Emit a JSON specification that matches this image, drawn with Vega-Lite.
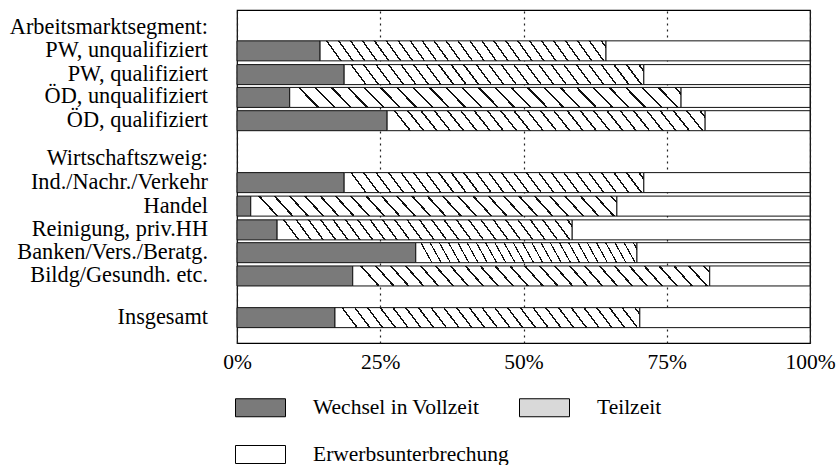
{
  "$schema": "https://vega.github.io/schema/vega-lite/v6.json",
  "width": 573,
  "height": 333,
  "autosize": {"type": "none"},
  "padding": {"left": 237, "top": 10, "right": 26, "bottom": 122},
  "background": "#ffffff",
  "config": {"font": "Liberation Serif, Times New Roman, serif", "view": {"stroke": "#000000", "strokeWidth": 1.2}},
  "datasets": {
    "bars": [
      {"row": "PW, unqualifiziert", "pos": 1.54, "cat": "Wechsel in Vollzeit", "value": 14.5},
      {"row": "PW, unqualifiziert", "pos": 1.54, "cat": "Teilzeit", "value": 49.9},
      {"row": "PW, unqualifiziert", "pos": 1.54, "cat": "Erwerbsunterbrechung", "value": 35.6},
      {"row": "PW, qualifiziert", "pos": 2.56, "cat": "Wechsel in Vollzeit", "value": 18.7},
      {"row": "PW, qualifiziert", "pos": 2.56, "cat": "Teilzeit", "value": 52.3},
      {"row": "PW, qualifiziert", "pos": 2.56, "cat": "Erwerbsunterbrechung", "value": 29.0},
      {"row": "ÖD, unqualifiziert", "pos": 3.54, "cat": "Wechsel in Vollzeit", "value": 9.2},
      {"row": "ÖD, unqualifiziert", "pos": 3.54, "cat": "Teilzeit", "value": 68.3},
      {"row": "ÖD, unqualifiziert", "pos": 3.54, "cat": "Erwerbsunterbrechung", "value": 22.5},
      {"row": "ÖD, qualifiziert", "pos": 4.54, "cat": "Wechsel in Vollzeit", "value": 26.2},
      {"row": "ÖD, qualifiziert", "pos": 4.54, "cat": "Teilzeit", "value": 55.5},
      {"row": "ÖD, qualifiziert", "pos": 4.54, "cat": "Erwerbsunterbrechung", "value": 18.3},
      {"row": "Ind./Nachr./Verkehr", "pos": 7.2, "cat": "Wechsel in Vollzeit", "value": 18.7},
      {"row": "Ind./Nachr./Verkehr", "pos": 7.2, "cat": "Teilzeit", "value": 52.3},
      {"row": "Ind./Nachr./Verkehr", "pos": 7.2, "cat": "Erwerbsunterbrechung", "value": 29.0},
      {"row": "Handel", "pos": 8.21, "cat": "Wechsel in Vollzeit", "value": 2.4},
      {"row": "Handel", "pos": 8.21, "cat": "Teilzeit", "value": 63.9},
      {"row": "Handel", "pos": 8.21, "cat": "Erwerbsunterbrechung", "value": 33.7},
      {"row": "Reinigung, priv.HH", "pos": 9.23, "cat": "Wechsel in Vollzeit", "value": 7.0},
      {"row": "Reinigung, priv.HH", "pos": 9.23, "cat": "Teilzeit", "value": 51.5},
      {"row": "Reinigung, priv.HH", "pos": 9.23, "cat": "Erwerbsunterbrechung", "value": 41.5},
      {"row": "Banken/Vers./Beratg.", "pos": 10.21, "cat": "Wechsel in Vollzeit", "value": 31.2},
      {"row": "Banken/Vers./Beratg.", "pos": 10.21, "cat": "Teilzeit", "value": 38.6},
      {"row": "Banken/Vers./Beratg.", "pos": 10.21, "cat": "Erwerbsunterbrechung", "value": 30.2},
      {"row": "Bildg/Gesundh. etc.", "pos": 11.21, "cat": "Wechsel in Vollzeit", "value": 20.2},
      {"row": "Bildg/Gesundh. etc.", "pos": 11.21, "cat": "Teilzeit", "value": 62.3},
      {"row": "Bildg/Gesundh. etc.", "pos": 11.21, "cat": "Erwerbsunterbrechung", "value": 17.5},
      {"row": "Insgesamt", "pos": 13.0, "cat": "Wechsel in Vollzeit", "value": 17.1},
      {"row": "Insgesamt", "pos": 13.0, "cat": "Teilzeit", "value": 53.2},
      {"row": "Insgesamt", "pos": 13.0, "cat": "Erwerbsunterbrechung", "value": 29.7}
    ],
    "labels": [
      {"label": "Arbeitsmarktsegment:", "pos": 0.5},
      {"label": "PW, unqualifiziert", "pos": 1.5},
      {"label": "PW, qualifiziert", "pos": 2.52},
      {"label": "ÖD, unqualifiziert", "pos": 3.5},
      {"label": "ÖD, qualifiziert", "pos": 4.5},
      {"label": "Wirtschaftszweig:", "pos": 6.16},
      {"label": "Ind./Nachr./Verkehr", "pos": 7.18},
      {"label": "Handel", "pos": 8.19},
      {"label": "Reinigung, priv.HH", "pos": 9.2},
      {"label": "Banken/Vers./Beratg.", "pos": 10.18},
      {"label": "Bildg/Gesundh. etc.", "pos": 11.18},
      {"label": "Insgesamt", "pos": 12.98}
    ]
  },
  "layer": [
    {
      "data": {"name": "bars"},
      "mark": {"type": "bar", "orient": "horizontal", "size": 20, "stroke": "#111111", "strokeWidth": 1},
      "encoding": {
        "y": {"field": "pos", "type": "quantitative", "scale": {"domain": [0, 13.875], "reverse": true, "nice": false, "zero": false}, "axis": null},
        "x": {
          "field": "value", "type": "quantitative", "stack": "normalize",
          "scale": {"domain": [0, 1], "nice": false},
          "axis": {"values": [0, 0.25, 0.5, 0.75, 1], "format": ".0%", "domain": false, "ticks": false, "grid": true, "gridDash": [2, 4], "gridColor": "#222222", "gridWidth": 1.2, "labelFontSize": 21.5, "labelFont": "Liberation Serif, Times New Roman, serif", "labelColor": "#000000", "labelPadding": 8, "labelFlush": false, "title": null}
        },
        "fill": {
          "field": "cat", "type": "nominal",
          "scale": {"domain": ["Wechsel in Vollzeit", "Teilzeit", "Erwerbsunterbrechung"], "range": ["#7a7a7a", "#d9d9d9", "#ffffff"]},
          "condition": {
            "test": "datum.cat === 'Teilzeit'",
            "value": {"gradient": "linear", "x1": 0, "y1": 0, "x2": 1, "y2": -0.05, "stops": [
                {"offset": 0, "color": "#ffffff"},
                {"offset": 0.0200, "color": "#ffffff"}, {"offset": 0.0200, "color": "#111111"}, {"offset": 0.0260, "color": "#111111"}, {"offset": 0.0260, "color": "#ffffff"},
                {"offset": 0.0617, "color": "#ffffff"}, {"offset": 0.0617, "color": "#111111"}, {"offset": 0.0677, "color": "#111111"}, {"offset": 0.0677, "color": "#ffffff"},
                {"offset": 0.1033, "color": "#ffffff"}, {"offset": 0.1033, "color": "#111111"}, {"offset": 0.1093, "color": "#111111"}, {"offset": 0.1093, "color": "#ffffff"},
                {"offset": 0.1450, "color": "#ffffff"}, {"offset": 0.1450, "color": "#111111"}, {"offset": 0.1510, "color": "#111111"}, {"offset": 0.1510, "color": "#ffffff"},
                {"offset": 0.1867, "color": "#ffffff"}, {"offset": 0.1867, "color": "#111111"}, {"offset": 0.1927, "color": "#111111"}, {"offset": 0.1927, "color": "#ffffff"},
                {"offset": 0.2283, "color": "#ffffff"}, {"offset": 0.2283, "color": "#111111"}, {"offset": 0.2343, "color": "#111111"}, {"offset": 0.2343, "color": "#ffffff"},
                {"offset": 0.2700, "color": "#ffffff"}, {"offset": 0.2700, "color": "#111111"}, {"offset": 0.2760, "color": "#111111"}, {"offset": 0.2760, "color": "#ffffff"},
                {"offset": 0.3117, "color": "#ffffff"}, {"offset": 0.3117, "color": "#111111"}, {"offset": 0.3177, "color": "#111111"}, {"offset": 0.3177, "color": "#ffffff"},
                {"offset": 0.3533, "color": "#ffffff"}, {"offset": 0.3533, "color": "#111111"}, {"offset": 0.3593, "color": "#111111"}, {"offset": 0.3593, "color": "#ffffff"},
                {"offset": 0.3950, "color": "#ffffff"}, {"offset": 0.3950, "color": "#111111"}, {"offset": 0.4010, "color": "#111111"}, {"offset": 0.4010, "color": "#ffffff"},
                {"offset": 0.4367, "color": "#ffffff"}, {"offset": 0.4367, "color": "#111111"}, {"offset": 0.4427, "color": "#111111"}, {"offset": 0.4427, "color": "#ffffff"},
                {"offset": 0.4783, "color": "#ffffff"}, {"offset": 0.4783, "color": "#111111"}, {"offset": 0.4843, "color": "#111111"}, {"offset": 0.4843, "color": "#ffffff"},
                {"offset": 0.5200, "color": "#ffffff"}, {"offset": 0.5200, "color": "#111111"}, {"offset": 0.5260, "color": "#111111"}, {"offset": 0.5260, "color": "#ffffff"},
                {"offset": 0.5617, "color": "#ffffff"}, {"offset": 0.5617, "color": "#111111"}, {"offset": 0.5677, "color": "#111111"}, {"offset": 0.5677, "color": "#ffffff"},
                {"offset": 0.6033, "color": "#ffffff"}, {"offset": 0.6033, "color": "#111111"}, {"offset": 0.6093, "color": "#111111"}, {"offset": 0.6093, "color": "#ffffff"},
                {"offset": 0.6450, "color": "#ffffff"}, {"offset": 0.6450, "color": "#111111"}, {"offset": 0.6510, "color": "#111111"}, {"offset": 0.6510, "color": "#ffffff"},
                {"offset": 0.6867, "color": "#ffffff"}, {"offset": 0.6867, "color": "#111111"}, {"offset": 0.6927, "color": "#111111"}, {"offset": 0.6927, "color": "#ffffff"},
                {"offset": 0.7283, "color": "#ffffff"}, {"offset": 0.7283, "color": "#111111"}, {"offset": 0.7343, "color": "#111111"}, {"offset": 0.7343, "color": "#ffffff"},
                {"offset": 0.7700, "color": "#ffffff"}, {"offset": 0.7700, "color": "#111111"}, {"offset": 0.7760, "color": "#111111"}, {"offset": 0.7760, "color": "#ffffff"},
                {"offset": 0.8117, "color": "#ffffff"}, {"offset": 0.8117, "color": "#111111"}, {"offset": 0.8177, "color": "#111111"}, {"offset": 0.8177, "color": "#ffffff"},
                {"offset": 0.8533, "color": "#ffffff"}, {"offset": 0.8533, "color": "#111111"}, {"offset": 0.8593, "color": "#111111"}, {"offset": 0.8593, "color": "#ffffff"},
                {"offset": 0.8950, "color": "#ffffff"}, {"offset": 0.8950, "color": "#111111"}, {"offset": 0.9010, "color": "#111111"}, {"offset": 0.9010, "color": "#ffffff"},
                {"offset": 0.9367, "color": "#ffffff"}, {"offset": 0.9367, "color": "#111111"}, {"offset": 0.9427, "color": "#111111"}, {"offset": 0.9427, "color": "#ffffff"},
                {"offset": 0.9783, "color": "#ffffff"}, {"offset": 0.9783, "color": "#111111"}, {"offset": 0.9843, "color": "#111111"}, {"offset": 0.9843, "color": "#ffffff"},
                {"offset": 1, "color": "#ffffff"}
            ]}
          },
          "legend": {
            "orient": "none", "legendX": -2, "legendY": 372, "direction": "horizontal", "columns": 2, "title": null,
            "symbolType": "M-1,-0.36H1V0.36H-1Z", "symbolSize": 2500, "symbolStrokeColor": "#000000", "symbolStrokeWidth": 1, "symbolOpacity": 1,
            "labelFontSize": 21.5, "labelFont": "Liberation Serif, Times New Roman, serif", "labelColor": "#000000", "labelOffset": 27, "columnPadding": 8, "rowPadding": 10, "labelLimit": 400,
            "encode": {"symbols": {"update": {
              "stroke": {"value": "#000000"},
              "strokeWidth": {"value": 1},
              "opacity": {"value": 1}
            }}}
          }
        },
        "order": {"field": "cat", "sort": "descending"}
      }
    },
    {
      "data": {"name": "labels"},
      "mark": {"type": "text", "align": "right", "baseline": "middle", "dx": -29, "fontSize": 22.3, "font": "Liberation Serif, Times New Roman, serif", "color": "#000000"},
      "encoding": {
        "x": {"datum": 0},
        "y": {"field": "pos", "type": "quantitative"},
        "text": {"field": "label"}
      }
    }
  ]
}
